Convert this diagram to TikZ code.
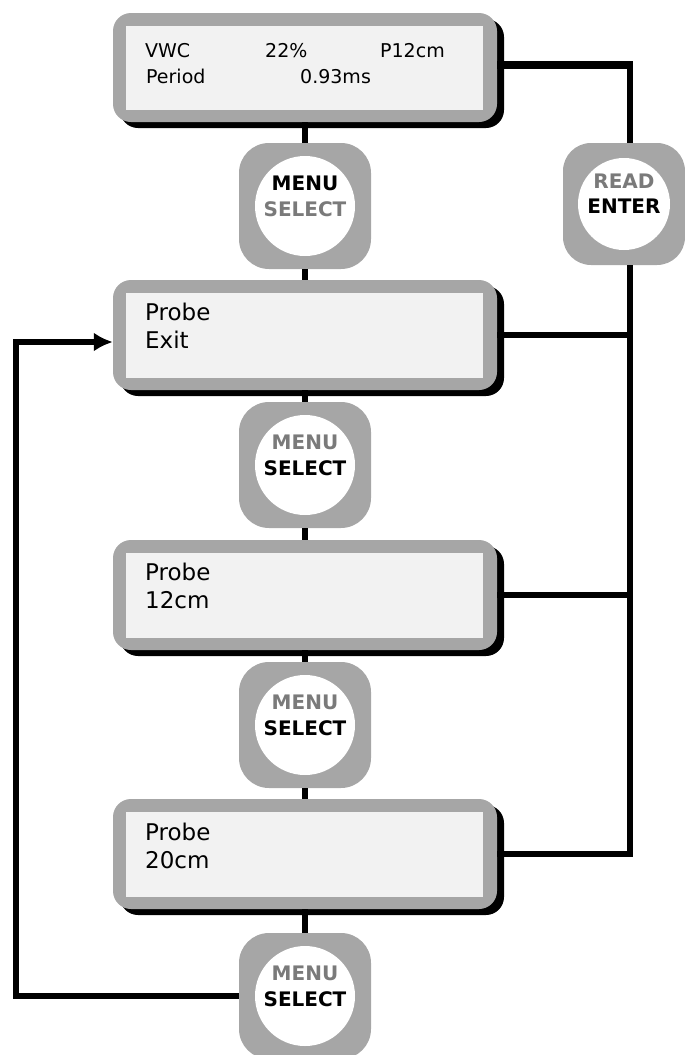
\documentclass[tikz,border=0pt]{standalone}
\usepackage{fontspec}
\setmainfont{DejaVu Sans}
\usetikzlibrary{arrows.meta,shadows}
\definecolor{btngray}{HTML}{A6A6A6}
\definecolor{panel}{HTML}{F2F2F2}
\definecolor{txtgray}{HTML}{7A7A7A}
\begin{document}
\begin{tikzpicture}[x=1pt,y=-1pt,
  lcd/.style={fill=btngray, rounded corners=18pt, minimum width=384pt, minimum height=110pt, inner sep=0pt,
    drop shadow={shadow xshift=7pt, shadow yshift=-6pt, fill=black, opacity=1}},
  btn/.style={fill=btngray, rounded corners=30pt, minimum width=132pt, minimum height=126pt, inner sep=0pt},
  disc/.style={circle, fill=white, minimum size=100pt, inner sep=0pt},
  conn/.style={line width=6pt, black},
  lcdtxt/.style={anchor=west, inner sep=0pt, text height=0.73em, text depth=0pt, font=\fontsize{19}{19}\selectfont},
  probetxt/.style={anchor=west, inner sep=0pt, text height=0.73em, text depth=0pt, font=\fontsize{23}{23}\selectfont},
  keyon/.style={inner sep=0pt, text height=0.73em, text depth=0pt, text=black, font=\bfseries\fontsize{20}{20}\selectfont},
  keyoff/.style={inner sep=0pt, text height=0.73em, text depth=0pt, text=txtgray, font=\bfseries\fontsize{20}{20}\selectfont},
]
\useasboundingbox (0,0) rectangle (685,1055);

% display boxes
\node[lcd, minimum height=109pt] (top) at (305,67.5) {};
\node[lcd] (pexit) at (305,335) {};
\node[lcd] (p12) at (305,595) {};
\node[lcd] (p20) at (305,854) {};
\foreach \b in {top,pexit,p12,p20}{
  \fill[panel] ([shift={(13pt,-13pt)}]\b.north west) rectangle ([shift={(-14pt,12pt)}]\b.south east);
}

% buttons
\node[btn] (b1) at (305,206) {};
\node[btn] (b2) at (305,465) {};
\node[btn] (b3) at (305,725) {};
\node[btn] (b4) at (305,996) {};
\node[btn, minimum width=122pt, minimum height=122pt, rounded corners=28pt] (rb) at (624,204) {};
\node[disc] (d1) at (b1) {};
\node[disc] (d2) at (b2) {};
\node[disc] (d3) at (b3) {};
\node[disc] (d4) at (b4) {};
\node[disc, minimum size=92pt] (dr) at (rb) {};

% button labels
\node[keyon]  (k1a) at (305,187) {MENU};
\node[keyoff] (k1b) at (305,213) {SELECT};
\node[keyoff] (k2a) at (305,446) {MENU};
\node[keyon]  (k2b) at (305,472) {SELECT};
\node[keyoff] (k3a) at (305,706) {MENU};
\node[keyon]  (k3b) at (305,732) {SELECT};
\node[keyoff] (k4a) at (305,977) {MENU};
\node[keyon]  (k4b) at (305,1003) {SELECT};
\node[keyoff] (kra) at (624,185) {READ};
\node[keyon]  (krb) at (624,210) {ENTER};

% display texts
\node[lcdtxt] (t1) at (145,54) {VWC};
\node[lcdtxt] (t2) at (265,54) {22\%};
\node[lcdtxt] (t3) at (380,54) {P12cm};
\node[lcdtxt] (t4) at (146,80) {Period};
\node[lcdtxt] (t5) at (300,80) {0.93ms};
\node[probetxt] (e1) at (145,317) {Probe};
\node[probetxt] (e2) at (145,345) {Exit};
\node[probetxt] (f1) at (145,577) {Probe};
\node[probetxt] (f2) at (145,605) {12cm};
\node[probetxt] (g1) at (145,837) {Probe};
\node[probetxt] (g2) at (145,865) {20cm};

% connectors
\coordinate (rc) at (630,65);
\coordinate (lc) at (16,342);
\draw[conn] (top.south) -- (b1.north);
\draw[conn] (b1.south) -- (pexit.north);
\draw[conn] (pexit.south) -- (b2.north);
\draw[conn] (b2.south) -- (p12.north);
\draw[conn] (p12.south) -- (b3.north);
\draw[conn] (b3.south) -- (p20.north);
\draw[conn] (p20.south) -- (b4.north);
\draw[conn, line width=8pt] (top.east |- rc) -- ([xshift=3pt]rc);
\draw[conn] (rc) -- (rc |- rb.north);
\draw[conn] (rc |- rb.south) -- (rc |- p20.east) -- (p20.east);
\draw[conn] (pexit.east) -- (pexit.east -| rc);
\draw[conn] (p12.east) -- (p12.east -| rc);
\draw[conn, -{Latex[length=19pt,width=19pt]}] (b4.west) -| (lc) -- (pexit.west |- lc);
\end{tikzpicture}
\end{document}
